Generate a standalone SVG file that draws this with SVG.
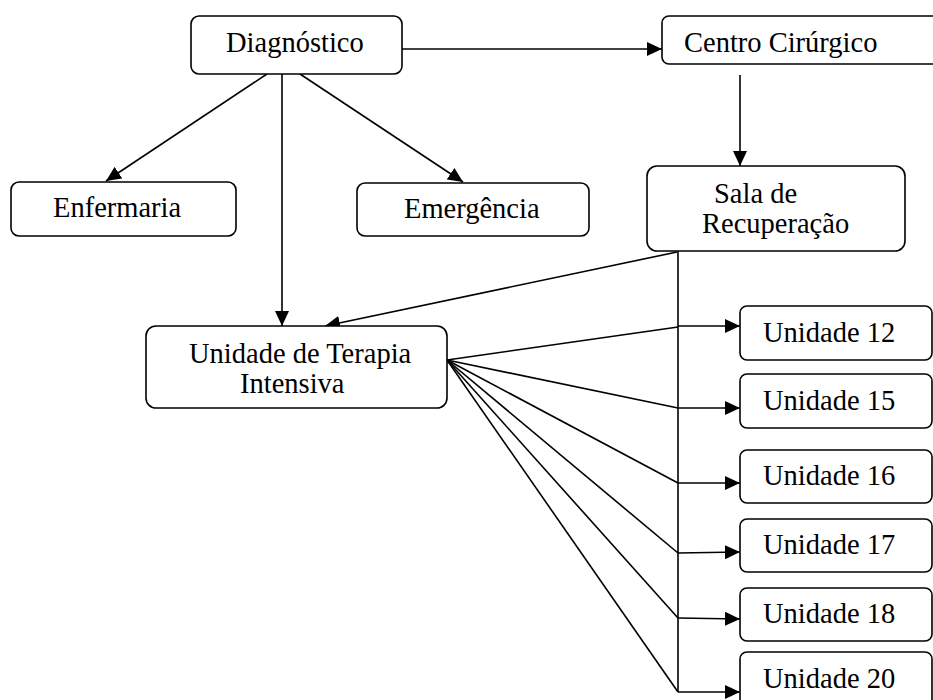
<svg xmlns="http://www.w3.org/2000/svg" width="933" height="700" viewBox="0 0 933 700">
<style>
.box{fill:#fff;stroke:#000;stroke-width:1.6}
.t{font-family:"Liberation Serif","Times New Roman",serif;font-size:28.5px;fill:#000}
.c{fill:none;stroke:#000;stroke-width:1.6}
.a{fill:none;stroke:#000;stroke-width:1.6;marker-end:url(#ah)}
</style>
<defs>
<marker id="ah" markerUnits="userSpaceOnUse" markerWidth="16" markerHeight="14" viewBox="0 0 16 14" refX="15" refY="7" orient="auto">
<path d="M0,0 L15,7 L0,14 Z" fill="#000"/>
</marker>
</defs>
<rect width="933" height="700" fill="#fff"/>
<g id="connectors">
<line class="a" x1="402" y1="49" x2="662" y2="49"/>
<line class="a" x1="267" y1="74" x2="106" y2="181"/>
<line class="a" x1="300" y1="74" x2="463" y2="182"/>
<line class="a" x1="282" y1="74" x2="282" y2="326"/>
<line class="a" x1="740" y1="75" x2="740" y2="166"/>
<line class="a" x1="677" y1="252" x2="325" y2="326"/>
<line class="c" x1="678" y1="251" x2="678" y2="692"/>
<polyline class="c" points="678,327 447,360 678,408"/>
<line class="c" x1="447" y1="360" x2="678" y2="483"/>
<line class="c" x1="447" y1="360" x2="678" y2="553"/>
<line class="c" x1="447" y1="360" x2="678" y2="618"/>
<line class="c" x1="447" y1="360" x2="678" y2="692"/>
<line class="a" x1="678" y1="326" x2="740" y2="326"/>
<line class="a" x1="678" y1="408" x2="740" y2="408"/>
<line class="a" x1="678" y1="483" x2="740" y2="483"/>
<line class="a" x1="678" y1="553" x2="740" y2="552"/>
<line class="a" x1="678" y1="618" x2="740" y2="619"/>
<line class="a" x1="678" y1="692" x2="740" y2="692"/>
</g>
<g id="diagnostico">
<rect class="box" x="191" y="16" width="211" height="58" rx="8"/>
<text class="t" x="226" y="52">Diagnóstico</text>
</g>
<g id="centro-cirurgico">
<rect class="box" x="662" y="16" width="290" height="48" rx="7"/>
<text class="t" x="684" y="52">Centro Cirúrgico</text>
</g>
<g id="enfermaria">
<rect class="box" x="11" y="182" width="225" height="54" rx="8"/>
<text class="t" x="53" y="217">Enfermaria</text>
</g>
<g id="emergencia">
<rect class="box" x="357" y="183" width="232" height="53" rx="8"/>
<text class="t" x="404" y="218">Emergência</text>
</g>
<g id="sala-recuperacao">
<rect class="box" x="647" y="166" width="258" height="85" rx="10"/>
<text class="t" x="714" y="203">Sala de</text>
<text class="t" x="702" y="233">Recuperação</text>
</g>
<g id="uti">
<rect class="box" x="146" y="326" width="301" height="82" rx="10"/>
<text class="t" x="189" y="363">Unidade de Terapia</text>
<text class="t" x="240" y="393">Intensiva</text>
</g>
<g id="unidade-12">
<rect class="box" x="740" y="306" width="192" height="54" rx="7"/>
<text class="t" x="763" y="342">Unidade 12</text>
</g>
<g id="unidade-15">
<rect class="box" x="740" y="374" width="192" height="54" rx="7"/>
<text class="t" x="763" y="410">Unidade 15</text>
</g>
<g id="unidade-16">
<rect class="box" x="740" y="450" width="192" height="53" rx="7"/>
<text class="t" x="763" y="485">Unidade 16</text>
</g>
<g id="unidade-17">
<rect class="box" x="740" y="519" width="192" height="53" rx="7"/>
<text class="t" x="763" y="554">Unidade 17</text>
</g>
<g id="unidade-18">
<rect class="box" x="740" y="588" width="192" height="53" rx="7"/>
<text class="t" x="763" y="623">Unidade 18</text>
</g>
<g id="unidade-20">
<rect class="box" x="740" y="652" width="192" height="60" rx="7"/>
<text class="t" x="763" y="688">Unidade 20</text>
</g>
</svg>
